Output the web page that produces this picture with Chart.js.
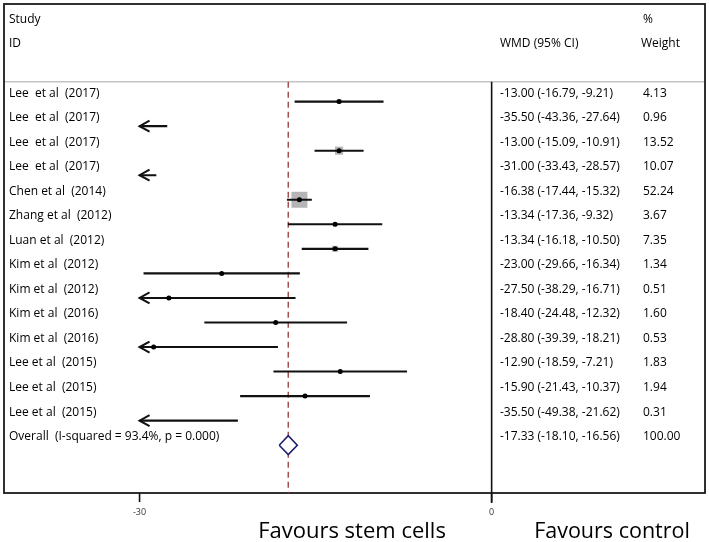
<!DOCTYPE html>
<html>
<head>
<meta charset="utf-8">
<script src="https://cdn.jsdelivr.net/npm/chart.js@4/dist/chart.umd.min.js"></script>
<style>
  html, body { margin: 0; padding: 0; background: #fff; }
</style>
</head>
<body>
<canvas id="forestChart" width="709" height="542"></canvas>
<script>
const studies = ['Lee  et al  (2017)', 'Lee  et al  (2017)', 'Lee  et al  (2017)', 'Lee  et al  (2017)',
  'Chen et al  (2014)', 'Zhang et al  (2012)', 'Luan et al  (2012)', 'Kim et al  (2012)', 'Kim et al  (2012)',
  'Kim et al  (2016)', 'Kim et al  (2016)', 'Lee et al  (2015)', 'Lee et al  (2015)', 'Lee et al  (2015)'];
const estimates = [-13.00, -35.50, -13.00, -31.00, -16.38, -13.34, -13.34, -23.00, -27.50, -18.40, -28.80, -12.90, -15.90, -35.50];
const lowerCI = [-16.79, -43.36, -15.09, -33.43, -17.44, -17.36, -16.18, -29.66, -38.29, -24.48, -39.39, -18.59, -21.43, -49.38];
const upperCI = [-9.21, -27.64, -10.91, -28.57, -15.32, -9.32, -10.50, -16.34, -16.71, -12.32, -18.21, -7.21, -10.37, -21.62];
const weights = [4.13, 0.96, 13.52, 10.07, 52.24, 3.67, 7.35, 1.34, 0.51, 1.60, 0.53, 1.83, 1.94, 0.31];

const overallLabel = 'Overall  (I-squared = 93.4%, p = 0.000)';
const overallEst = -17.33;
const overallLo = -18.10;
const overallHi = -16.56;
const overallWeight = 100.00;

const xTicks = [-30, 0];
const axisFloor = -30;   // stata clips the CIs here and draws an arrow

const rows = studies.map((s, i) => i + 1);
const overallRow = studies.length + 1;

const fmt = v => v.toFixed(2);
const fmtCI = (e, l, h) => `${fmt(e)} (${fmt(l)}, ${fmt(h)})`;

// CI segments, broken with empty points
const ciData = [];
rows.forEach((r, i) => {
  ciData.push({ x: Math.max(lowerCI[i], axisFloor), y: r });
  ciData.push({ x: upperCI[i], y: r });
  ciData.push({ x: null, y: null });
});

const shown = i => estimates[i] >= axisFloor;
const pointData = rows.map((r, i) => shown(i) ? { x: estimates[i], y: r } : { x: null, y: null });
const boxRadius = weights.map(w => Math.sqrt(w) * 2.21 / Math.SQRT2);

const diamondHalf = 0.385;
const diamondData = [
  { x: overallLo, y: overallRow },
  { x: overallEst, y: overallRow - diamondHalf },
  { x: overallHi, y: overallRow },
  { x: overallEst, y: overallRow + diamondHalf },
  { x: overallLo, y: overallRow }
];

const FONT = '"Open Sans", "Noto Sans", sans-serif';

const forestPlugin = {
  id: 'forestPlugin',
  beforeDatasetsDraw(chart) {
    const { ctx, chartArea: a } = chart;
    const xs = chart.scales.x;
    const ys = chart.scales.y;
    const sepY = ys.getPixelForValue(0.19);

    ctx.save();
    // header separator
    ctx.strokeStyle = '#c4c4c4';
    ctx.lineWidth = 1.5;
    ctx.beginPath();
    ctx.moveTo(a.left, sepY);
    ctx.lineTo(a.right, sepY);
    ctx.stroke();

    // frame
    ctx.strokeStyle = '#1a1a1a';
    ctx.lineWidth = 1.8;
    ctx.strokeRect(a.left, a.top, a.right - a.left, a.bottom - a.top);

    // null line + ticks
    ctx.lineWidth = 1.6;
    ctx.strokeStyle = '#111';
    const x0 = xs.getPixelForValue(0);
    ctx.beginPath();
    ctx.moveTo(x0, sepY);
    ctx.lineTo(x0, a.bottom + 10);
    ctx.stroke();
    xTicks.forEach(t => {
      const xp = xs.getPixelForValue(t);
      ctx.beginPath();
      ctx.moveTo(xp, a.bottom);
      ctx.lineTo(xp, a.bottom + 9);
      ctx.stroke();
    });
    ctx.fillStyle = '#333';
    ctx.font = `9px ${FONT}`;
    ctx.textAlign = 'center';
    ctx.textBaseline = 'middle';
    xTicks.forEach(t => ctx.fillText(String(t), xs.getPixelForValue(t), a.bottom + 19));

    // overall dashed line
    const xo = xs.getPixelForValue(overallEst);
    ctx.strokeStyle = '#a04848';
    ctx.lineWidth = 1.4;
    ctx.setLineDash([6, 4]);
    ctx.beginPath();
    ctx.moveTo(xo, sepY);
    ctx.lineTo(xo, a.bottom);
    ctx.stroke();
    ctx.setLineDash([]);

    // headers
    ctx.fillStyle = '#000';
    ctx.font = `12px ${FONT}`;
    ctx.textAlign = 'left';
    ctx.fillText('Study', 9, ys.getPixelForValue(-2.33));
    ctx.fillText('ID', 9, ys.getPixelForValue(-1.36));
    ctx.fillText('WMD (95% CI)', 500, ys.getPixelForValue(-1.36));
    ctx.fillText('%', 643, ys.getPixelForValue(-2.33));
    ctx.fillText('Weight', 641, ys.getPixelForValue(-1.36));

    // rows
    rows.forEach((r, i) => {
      const ty = ys.getPixelForValue(r) - 8.5;
      ctx.fillText(studies[i], 9, ty);
      ctx.fillText(fmtCI(estimates[i], lowerCI[i], upperCI[i]), 500, ty);
      ctx.fillText(fmt(weights[i]), 643, ty);
    });
    const oy = ys.getPixelForValue(overallRow) - 8.5;
    ctx.fillText(overallLabel, 9, oy);
    ctx.fillText(fmtCI(overallEst, overallLo, overallHi), 500, oy);
    ctx.fillText(fmt(overallWeight), 643, oy);

    // favours labels
    ctx.textAlign = 'center';
    ctx.font = `22px ${FONT}`;
    ctx.fillText('Favours stem cells', 352, a.bottom + 39);
    ctx.font = `21.5px ${FONT}`;
    ctx.fillText('Favours control', 612, a.bottom + 39);
    ctx.restore();
  },
  afterDatasetsDraw(chart) {
    const { ctx } = chart;
    const xs = chart.scales.x;
    const ys = chart.scales.y;
    ctx.save();
    ctx.strokeStyle = '#111';
    ctx.lineWidth = 2;
    rows.forEach((r, i) => {
      if (lowerCI[i] >= axisFloor) return;
      const xp = xs.getPixelForValue(axisFloor);
      const yp = ys.getPixelForValue(r);
      ctx.beginPath();
      ctx.moveTo(xp + 10, yp - 5.5);
      ctx.lineTo(xp, yp);
      ctx.lineTo(xp + 10, yp + 5.5);
      ctx.stroke();
    });
    ctx.restore();
  }
};

new Chart(document.getElementById('forestChart').getContext('2d'), {
  type: 'scatter',
  data: {
    datasets: [
      {
        type: 'line',
        label: 'dots',
        data: pointData,
        showLine: false,
        pointRadius: 2.5,
        pointBackgroundColor: '#000',
        pointBorderWidth: 0,
        order: 0
      },
      {
        type: 'line',
        label: 'ci',
        data: ciData,
        borderColor: '#111',
        borderWidth: 2.1,
        pointRadius: 0,
        spanGaps: false,
        order: 1
      },
      {
        type: 'line',
        label: 'boxes',
        data: pointData,
        showLine: false,
        pointStyle: 'rect',
        pointRadius: boxRadius,
        pointBackgroundColor: '#b5b5b5',
        pointBorderWidth: 0,
        order: 2
      },
      {
        type: 'line',
        label: 'overall',
        data: diamondData,
        borderColor: '#1f1f70',
        backgroundColor: '#fff',
        fill: 'shape',
        borderWidth: 1.6,
        pointRadius: 0,
        tension: 0,
        order: 3
      }
    ]
  },
  options: {
    responsive: false,
    animation: false,
    layout: { padding: { left: 3, right: 3, top: 2, bottom: 49 } },
    plugins: {
      legend: { display: false },
      tooltip: { enabled: false },
      filler: { drawTime: 'beforeDatasetDraw' }
    },
    scales: {
      x: { type: 'linear', min: -41.55, max: 18.18, display: false },
      y: { type: 'linear', min: -2.977, max: 16.948, reverse: true, display: false }
    }
  },
  plugins: [forestPlugin]
});
</script>
</body>
</html>
